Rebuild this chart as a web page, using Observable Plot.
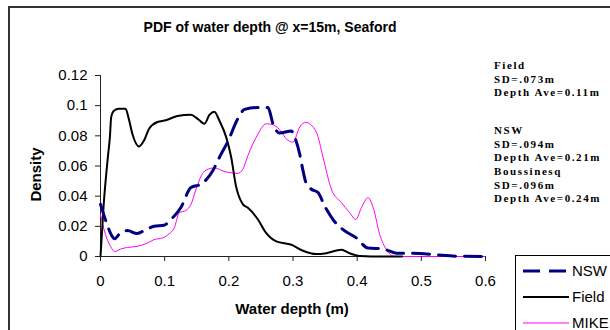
<!DOCTYPE html>
<html>
<head>
<meta charset="utf-8">
<script src="https://cdn.jsdelivr.net/npm/d3@7"></script>
<script src="https://cdn.jsdelivr.net/npm/@observablehq/plot@0.6"></script>
<style>
  html, body { margin: 0; padding: 0; background: #fff; }
  #wrap { position: relative; width: 610px; height: 330px; overflow: hidden; background: #fff; font-family: "Liberation Sans", Arial, sans-serif; color: #000; }
  #frame { position: absolute; left: 8px; top: 6px; width: 800px; height: 800px; border: 2px solid #333; box-sizing: border-box; }
  #chart { position: absolute; left: 0; top: 0; }
  #title { position: absolute; left: 0; width: 540px; top: 19px; line-height: 16px; text-align: center; font-weight: bold; font-size: 14px; }
  #ylabel { position: absolute; left: -15px; top: 166px; width: 100px; line-height: 17px; text-align: center; font-weight: bold; font-size: 15px; transform: rotate(-90deg); }
  #xlabel { position: absolute; left: 192px; top: 300px; width: 200px; line-height: 17px; text-align: center; font-weight: bold; font-size: 15px; }
  .note { position: absolute; left: 494px; font-family: "Liberation Serif", "Times New Roman", serif; font-weight: bold; font-size: 11px; letter-spacing: 1.6px; line-height: 13.5px; white-space: nowrap; }
  #legend { position: absolute; left: 515px; top: 255px; width: 200px; height: 200px; border: 1px solid #000; background: #fff; }
  .lg { position: absolute; left: 6px; height: 20px; width: 200px; }
  .lg svg { position: absolute; left: 0; top: 0; }
  .lg span { position: absolute; left: 50px; top: 1px; font-size: 15px; line-height: 17px; }
</style>
</head>
<body>
<div id="wrap">
  <div id="frame"></div>
  <div id="chart"></div>
  <div id="title">PDF of water depth @ x=15m, Seaford</div>
  <div id="ylabel">Density</div>
  <div id="xlabel">Water depth (m)</div>
  <div class="note" style="top:59px">Field<br>SD=.073m<br>Depth Ave=0.11m</div>
  <div class="note" style="top:124px">NSW<br>SD=.094m<br>Depth Ave=0.21m</div>
  <div class="note" style="top:165px">Boussinesq<br>SD=.096m<br>Depth Ave=0.24m</div>
  <div id="legend"></div>
</div>
<script>
// Field (measured)
const fieldX = [0, 0.005, 0.0115, 0.0146, 0.0167, 0.021, 0.0287, 0.039, 0.044, 0.0496, 0.060, 0.068, 0.0757, 0.0887, 0.1018, 0.12, 0.141, 0.151, 0.162, 0.17, 0.1775, 0.185, 0.196, 0.2036, 0.211, 0.222, 0.2297, 0.2454, 0.258, 0.274, 0.2975, 0.3156, 0.3364, 0.352, 0.3754, 0.388, 0.404, 0.44, 0.47];
const fieldY = [0, 0.0346, 0.066, 0.079, 0.0925, 0.0966, 0.098, 0.098, 0.0914, 0.0814, 0.073, 0.077, 0.0847, 0.0892, 0.0903, 0.0932, 0.094, 0.0914, 0.088, 0.094, 0.096, 0.0903, 0.079, 0.066, 0.047, 0.0346, 0.0323, 0.0245, 0.0156, 0.010, 0.0078, 0.0038, 0.0016, 0.0022, 0.0045, 0.0022, 0.0004, 0, 0];
// NSW model
const nswX = [0, 0.0094, 0.0167, 0.022, 0.031, 0.042, 0.057, 0.0705, 0.0835, 0.099, 0.1096, 0.125, 0.141, 0.157, 0.175, 0.188, 0.198, 0.214, 0.2245, 0.245, 0.261, 0.2688, 0.279, 0.2974, 0.3026, 0.3104, 0.3156, 0.321, 0.3286, 0.339, 0.3494, 0.3624, 0.378, 0.3988, 0.417, 0.44, 0.461, 0.4976, 0.5236, 0.555, 0.6];
const nswY = [0.0346, 0.0223, 0.0145, 0.0118, 0.0156, 0.0172, 0.0152, 0.0178, 0.020, 0.0207, 0.0245, 0.0323, 0.0457, 0.048, 0.0569, 0.068, 0.0758, 0.0914, 0.0975, 0.0988, 0.0988, 0.088, 0.0818, 0.0832, 0.0792, 0.068, 0.0569, 0.048, 0.0446, 0.0424, 0.0334, 0.0245, 0.0178, 0.0123, 0.0056, 0.0051, 0.0022, 0.002, 0.0011, 0.0002, 0];
// MIKE (Boussinesq) model
const mikeX = [0, 0.0078, 0.0157, 0.022, 0.031, 0.042, 0.057, 0.073, 0.0835, 0.0966, 0.107, 0.115, 0.1227, 0.133, 0.141, 0.149, 0.157, 0.1645, 0.1775, 0.193, 0.214, 0.222, 0.2297, 0.2427, 0.2584, 0.269, 0.282, 0.2896, 0.300, 0.3104, 0.3198, 0.3364, 0.3468, 0.3598, 0.3754, 0.3884, 0.3978, 0.4066, 0.417, 0.4258, 0.4352, 0.4456, 0.4586, 0.6];
const mikeY = [0.0279, 0.0145, 0.0067, 0.0033, 0.0049, 0.006, 0.0067, 0.0089, 0.0112, 0.0123, 0.015, 0.019, 0.029, 0.0305, 0.0346, 0.0446, 0.0535, 0.0573, 0.0587, 0.0564, 0.0551, 0.058, 0.0669, 0.079, 0.088, 0.0874, 0.0825, 0.078, 0.0758, 0.0858, 0.0889, 0.0825, 0.0658, 0.0446, 0.0357, 0.029, 0.0245, 0.0323, 0.039, 0.0312, 0.0145, 0.0045, 0, 0];

const xTicks = [0, 0.1, 0.2, 0.3, 0.4, 0.5, 0.6];
const yTicks = [0, 0.02, 0.04, 0.06, 0.08, 0.1, 0.12];

const seriesNames = ["NSW", "Field", "MIKE"];
const seriesColors = ["#000080", "#000000", "#ff00ff"];
const seriesWidths = [3, 2, 1];
const seriesDash = ["17,9", null, null];

const toRows = (xs, ys) => xs.map((x, i) => ({x, y: ys[i]}));
const field = toRows(fieldX, fieldY);
const nsw = toRows(nswX, nswY);
const mike = toRows(mikeX, mikeY);

const plot = Plot.plot({
  width: 610,
  height: 330,
  marginLeft: 100,
  marginRight: 125,
  marginTop: 75,
  marginBottom: 74,
  style: {fontFamily: '"Liberation Sans", Arial, sans-serif', fontSize: "15px", color: "#000", background: "transparent", overflow: "visible"},
  x: {domain: [0, 0.6]},
  y: {domain: [0, 0.12]},
  marks: [
    Plot.ruleX([0], {stroke: "#222"}),
    Plot.ruleY([0], {stroke: "#222"}),
    Plot.line(mike, {x: "x", y: "y", stroke: seriesColors[2], strokeWidth: seriesWidths[2], curve: "monotone-x"}),
    Plot.line(field, {x: "x", y: "y", stroke: seriesColors[1], strokeWidth: seriesWidths[1], curve: "monotone-x"}),
    Plot.line(nsw, {x: "x", y: "y", stroke: seriesColors[0], strokeWidth: seriesWidths[0], strokeDasharray: seriesDash[0], curve: "monotone-x"}),
    Plot.axisX({ticks: xTicks, tickFormat: d => String(d), tickSize: 5, tickPadding: 14, stroke: "#222", label: null}),
    Plot.axisY({ticks: yTicks, tickFormat: d => String(d), tickSize: 5, tickPadding: 8, stroke: "#222", label: null})
  ]
});
document.getElementById("chart").appendChild(plot);

// Legend
const legend = document.getElementById("legend");
const legendTops = [5, 31, 57];
seriesNames.forEach((name, i) => {
  const row = document.createElement("div");
  row.className = "lg";
  row.style.top = legendTops[i] + "px";
  const dash = seriesDash[i] ? ` stroke-dasharray="${seriesDash[i]}"` : "";
  row.innerHTML = `<svg width="50" height="20"><line x1="1" x2="47" y1="10" y2="10" stroke="${seriesColors[i]}" stroke-width="${seriesWidths[i]}"${dash}/></svg><span>${name}</span>`;
  legend.appendChild(row);
});
</script>
</body>
</html>
